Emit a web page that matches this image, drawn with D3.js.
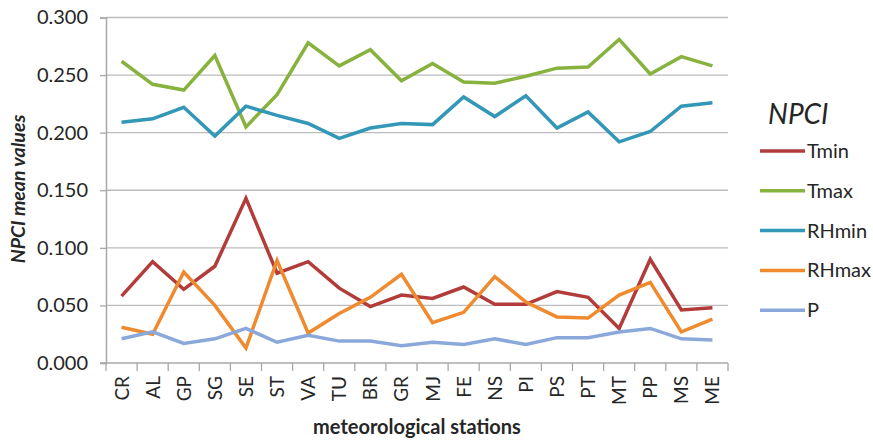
<!DOCTYPE html>
<head>
  <meta charset="utf-8">
  <title>NPCI mean values</title>
  <script src="https://d3js.org/d3.v7.min.js"></script>
  <style>
    body { margin: 0; background: #fff; }
    text { font-family: Lato, "Open Sans", sans-serif; fill: #262626; }
  </style>
</head>
<body>
  <div id="chart"></div>
  <script>
    // stations and NPCI mean values per variable
    var stations = ['CR','AL','GP','SG','SE','ST','VA','TU','BR','GR','MJ','FE','NS','PI','PS','PT','MT','PP','MS','ME'];
    var tmin  = [0.058,0.088,0.064,0.084,0.143,0.078,0.088,0.065,0.049,0.059,0.056,0.066,0.051,0.051,0.062,0.057,0.030,0.090,0.046,0.048];
    var tmax  = [0.262,0.242,0.237,0.267,0.205,0.233,0.278,0.258,0.272,0.245,0.260,0.244,0.243,0.249,0.256,0.257,0.281,0.251,0.266,0.258];
    var rhmin = [0.209,0.212,0.222,0.197,0.223,0.215,0.208,0.195,0.204,0.208,0.207,0.231,0.214,0.232,0.204,0.218,0.192,0.201,0.223,0.226];
    var rhmax = [0.031,0.025,0.079,0.050,0.013,0.089,0.026,0.043,0.057,0.077,0.035,0.044,0.075,0.053,0.040,0.039,0.059,0.070,0.027,0.038];
    var precip = [0.021,0.027,0.017,0.021,0.030,0.018,0.024,0.019,0.019,0.015,0.018,0.016,0.021,0.016,0.022,0.022,0.027,0.030,0.021,0.020];
    var yTicks = [0, 0.05, 0.1, 0.15, 0.2, 0.25, 0.3];

    var series = [
      { name: 'Tmin',  values: tmin,  color: '#b23c3a' },
      { name: 'Tmax',  values: tmax,  color: '#88b23e' },
      { name: 'RHmin', values: rhmin, color: '#3397b7' },
      { name: 'RHmax', values: rhmax, color: '#ef8a2f' },
      { name: 'P',     values: precip, color: '#8aa8da' }
    ];

    var width = 873, height = 440;
    var plotLeft = 106, plotRight = 728, plotTop = 17.5, plotBottom = 363;

    var svg = d3.select('#chart').append('svg')
      .attr('width', width)
      .attr('height', height);

    var x = d3.scaleBand().domain(stations).range([plotLeft, plotRight]);
    var y = d3.scaleLinear().domain([0, 0.3]).range([plotBottom, plotTop]);

    // gridlines
    svg.append('g')
      .selectAll('line')
      .data(yTicks.filter(function (d) { return d > 0; }))
      .enter().append('line')
        .attr('x1', plotLeft).attr('x2', plotRight)
        .attr('y1', function (d) { return y(d); })
        .attr('y2', function (d) { return y(d); })
        .attr('stroke', '#bcbcbc')
        .attr('stroke-width', 1.3);

    // y axis
    var yAxis = svg.append('g')
      .attr('transform', 'translate(' + plotLeft + ',0)')
      .call(d3.axisLeft(y).tickValues(yTicks).tickFormat(d3.format('.3f')).tickSize(6).tickPadding(12));
    yAxis.select('.domain').attr('stroke', '#a8a8a8').attr('stroke-width', 1.5);
    yAxis.selectAll('.tick line').attr('stroke', '#a8a8a8').attr('stroke-width', 1.3);
    yAxis.selectAll('text').style('font-size', '20px').attr('fill', '#333');

    // x axis: ticks at band boundaries
    var xg = svg.append('g').attr('transform', 'translate(0,' + plotBottom + ')');
    xg.append('line')
      .attr('x1', plotLeft - 6).attr('x2', plotRight)
      .attr('stroke', '#a8a8a8').attr('stroke-width', 1.5);
    xg.selectAll('.bt')
      .data(stations.concat(['end']))
      .enter().append('line')
        .attr('class', 'bt')
        .attr('x1', function (d, i) { return plotLeft + i * x.bandwidth(); })
        .attr('x2', function (d, i) { return plotLeft + i * x.bandwidth(); })
        .attr('y1', 0).attr('y2', 8)
        .attr('stroke', '#a8a8a8').attr('stroke-width', 1.3);
    xg.selectAll('.lbl')
      .data(stations)
      .enter().append('text')
        .attr('class', 'lbl')
        .attr('transform', function (d) {
          return 'translate(' + (x(d) + x.bandwidth() / 2 + 7) + ',13) rotate(-90)';
        })
        .attr('text-anchor', 'end')
        .style('font-size', '19px')
        .text(function (d) { return d; });

    // lines
    var line = d3.line()
      .x(function (d, i) { return x(stations[i]) + x.bandwidth() / 2; })
      .y(function (d) { return y(d); });

    svg.append('g')
      .selectAll('path')
      .data(series)
      .enter().append('path')
        .attr('d', function (s) { return line(s.values); })
        .attr('fill', 'none')
        .attr('stroke', function (s) { return s.color; })
        .attr('stroke-width', 3.5)
        .attr('stroke-linejoin', 'miter');

    // axis titles
    svg.append('text')
      .attr('transform', 'translate(25,189) rotate(-90)')
      .attr('text-anchor', 'middle')
      .style('font-size', '19.5px')
      .style('font-weight', 'bold')
      .style('font-style', 'italic')
      .text('NPCI mean values');

    svg.append('text')
      .attr('x', 417).attr('y', 434)
      .attr('text-anchor', 'middle')
      .style('font-size', '20px')
      .style('font-weight', 'bold')
      .text('meteorological stations');

    // legend
    var legend = svg.append('g');
    legend.append('text')
      .attr('x', 768).attr('y', 124)
      .style('font-size', '28px')
      .style('font-style', 'italic')
      .text('NPCI');

    var row = legend.selectAll('.row')
      .data(series)
      .enter().append('g')
        .attr('class', 'row')
        .attr('transform', function (d, i) { return 'translate(760,' + (151 + i * 39.8) + ')'; });
    row.append('line')
      .attr('x1', 0).attr('x2', 45)
      .attr('stroke', function (d) { return d.color; })
      .attr('stroke-width', 3.5);
    row.append('text')
      .attr('x', 47).attr('dy', '0.35em')
      .style('font-size', '20px')
      .text(function (d) { return d.name; });
  </script>
</body>
